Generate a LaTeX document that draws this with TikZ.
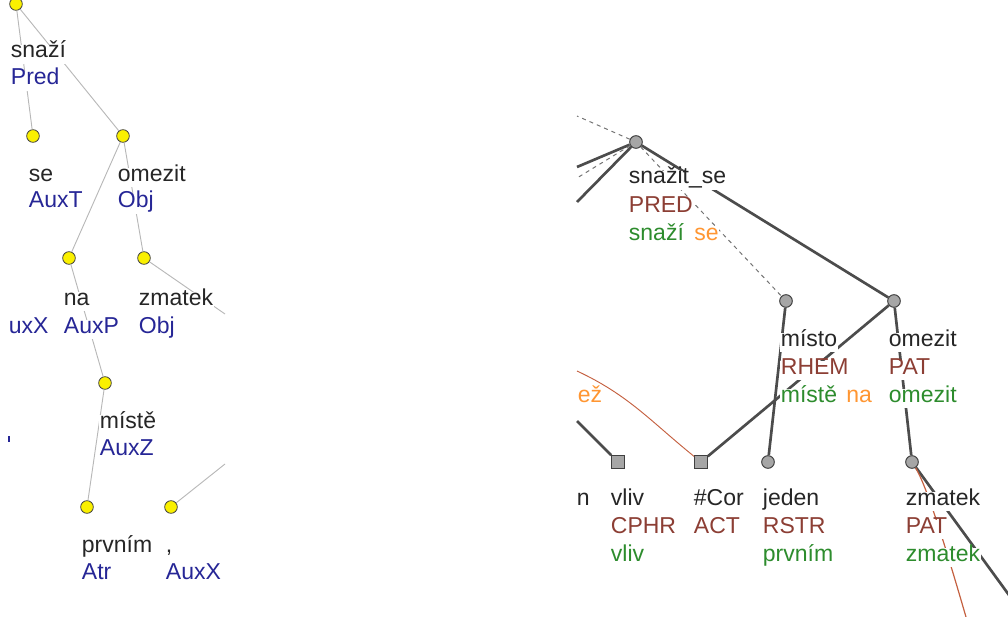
\documentclass[tikz,border=0pt]{standalone}
\usepackage{fontspec}
\setmainfont{Liberation Sans}
\usepackage{tikz}
\usetikzlibrary{calc}
\definecolor{pdtblue}{RGB}{38,38,150}
\definecolor{pdtbrown}{RGB}{140,62,52}
\definecolor{pdtgreen}{RGB}{45,140,45}
\definecolor{pdtorange}{RGB}{255,150,50}
\definecolor{pdtcoref}{RGB}{196,96,64}
\definecolor{pdtyellow}{RGB}{250,240,0}
\tikzstyle{avertex}=[circle,fill=pdtyellow,draw=black!75,minimum size=9.5pt,inner sep=0pt,line width=0.6pt]
\tikzstyle{tvertex}=[circle,fill=black!35,draw=black!75,minimum size=9.5pt,inner sep=0pt,line width=0.75pt]
\tikzstyle{tsquare}=[rectangle,fill=black!35,draw=black!75,minimum size=9.5pt,inner sep=0pt,line width=0.75pt]
\tikzstyle{aedge} = [draw,black!28,line width=0.7pt]
\tikzstyle{tedge} = [draw,black!70,line width=2pt]
\tikzstyle{tdashed} = [draw,black!55,line width=0.75pt,dash pattern=on 3pt off 3pt]
\tikzstyle{coref} = [draw,pdtcoref,line width=0.7pt]
\tikzstyle{word}=[anchor=base west,fill=white,inner xsep=0.5pt,inner ysep=2.2pt,text height=0.74em,text depth=0.22em,text=black!85]
\tikzstyle{wafun}=[word,text=pdtblue]
\tikzstyle{wfunctor}=[word,text=pdtbrown]
\tikzstyle{wlemma}=[word,text=pdtgreen]
\tikzstyle{waux}=[word,text=pdtorange]

\begin{document}
\begin{tikzpicture}[x=0.75pt,y=-0.75pt,font=\fontsize{17.25}{20}\selectfont]
\useasboundingbox (0,0) rectangle (1008,617);
\clip (0,0) rectangle (1008,617);

%Analytical tree (left)
    \foreach \pos/\name in {{(16,4)/asnazi},{(33,136)/ase},{(123,136)/aomezit},{(69,258)/ana},{(144,258)/azmatek},{(105,383)/amiste},{(87,507)/aprvnim},{(171,507)/acomma}}
    	\node[avertex] (\name) at \pos {};
    \coordinate (aoff1) at (225,314);
    \coordinate (aoff2) at (225,464);

    % Connect vertices with edges
    \foreach \source/ \dest in {asnazi/ase, asnazi/aomezit, aomezit/ana, aomezit/azmatek, ana/amiste, amiste/aprvnim, azmatek/aoff1, acomma/aoff2}
        \path[aedge] (\source) -- (\dest);

    % Labels
    \foreach \pos/\name/\txt in {{(10,58)/asnazi-w/snaží},{(28,181)/ase-w/se},{(117,181)/aomezit-w/omezit},{(63,305)/ana-w/na},{(138,305)/azmatek-w/zmatek},{(99,428)/amiste-w/místě},{(81,552)/aprvnim-w/prvním},{(165,552)/acomma-w/{,}}}
        \node[word] (\name) at \pos {\txt};
    \foreach \pos/\name/\txt in {{(10,85)/asnazi-a/Pred},{(28,208)/ase-a/AuxT},{(117,208)/aomezit-a/Obj},{(8,333)/acut-a/uxX},{(63,333)/ana-a/AuxP},{(138,333)/azmatek-a/Obj},{(99,455)/amiste-a/AuxZ},{(81,579)/aprvnim-a/Atr},{(165,579)/acomma-a/AuxX}}
        \node[wafun] (\name) at \pos {\txt};
    \draw[pdtblue,line width=0.8pt] (9,436) -- (9,442);

%Tectogrammatical tree (right)
    \foreach \pos/\name in {{(636,142)/tsnazit},{(786,301)/tmisto},{(894,301)/tomezit},{(768,462)/tjeden},{(912,462)/tzmatek}}
    	\node[tvertex] (\name) at \pos {};
    \foreach \pos/\name in {{(618,462)/tvliv},{(701,462)/tcor}}
    	\node[tsquare] (\name) at \pos {};
    \coordinate (toff1) at (577,167);
    \coordinate (toff2) at (577,202);
    \coordinate (toff3) at (577,178);
    \coordinate (toff4) at (577,116);
    \coordinate (toff5) at (577,421);
    \coordinate (toff6) at (1025,617);
    \coordinate (toff7) at (577,371);
    \coordinate (toff8) at (966,617);

    % Connect vertices with edges
    \foreach \source/ \dest in {tsnazit/tomezit, tmisto/tjeden, tomezit/tcor, tomezit/tzmatek, tsnazit/toff1, tsnazit/toff2, tvliv/toff5, tzmatek/toff6}
        \path[tedge] (\source) -- (\dest);
    \foreach \source/ \dest in {tsnazit/tmisto, tsnazit/toff3, tsnazit/toff4}
        \path[tdashed] (\source) -- (\dest);
    \draw[coref] (tcor) to[out=141,in=-25] (toff7);
    \draw[coref,line width=0.9pt] (tzmatek) .. controls (928,488) and (950,562) .. (toff8);

    % Labels
    \foreach \pos/\name/\txt in {{(628,184)/tsnazit-w/snažit\_se},{(780,346)/tmisto-w/místo},{(888,346)/tomezit-w/omezit},{(576,505)/tcut-w/n},{(610,505)/tvliv-w/vliv},{(693,505)/tcor-w/\#Cor},{(762,505)/tjeden-w/jeden},{(905,505)/tzmatek-w/zmatek}}
        \node[word] (\name) at \pos {\txt};
    \foreach \pos/\name/\txt in {{(628,212)/tsnazit-f/PRED},{(780,374)/tmisto-f/RHEM},{(888,374)/tomezit-f/PAT},{(610,533)/tvliv-f/CPHR},{(693,533)/tcor-f/ACT},{(762,533)/tjeden-f/RSTR},{(905,533)/tzmatek-f/PAT}}
        \node[wfunctor] (\name) at \pos {\txt};
    \foreach \pos/\name/\txt in {{(628,240)/tsnazit-s/{snaží\hspace{0.45em}\textcolor{pdtorange}{se}}},{(780,402)/tmisto-s/{místě\hspace{0.4em}\textcolor{pdtorange}{na}}},{(888,402)/tomezit-s/omezit},{(610,561)/tvliv-s/vliv},{(762,561)/tjeden-s/prvním},{(905,561)/tzmatek-s/zmatek}}
        \node[wlemma] (\name) at \pos {\txt};
    \node[waux] (tcut-s) at (577,402) {ež};

\end{tikzpicture}
\end{document}
